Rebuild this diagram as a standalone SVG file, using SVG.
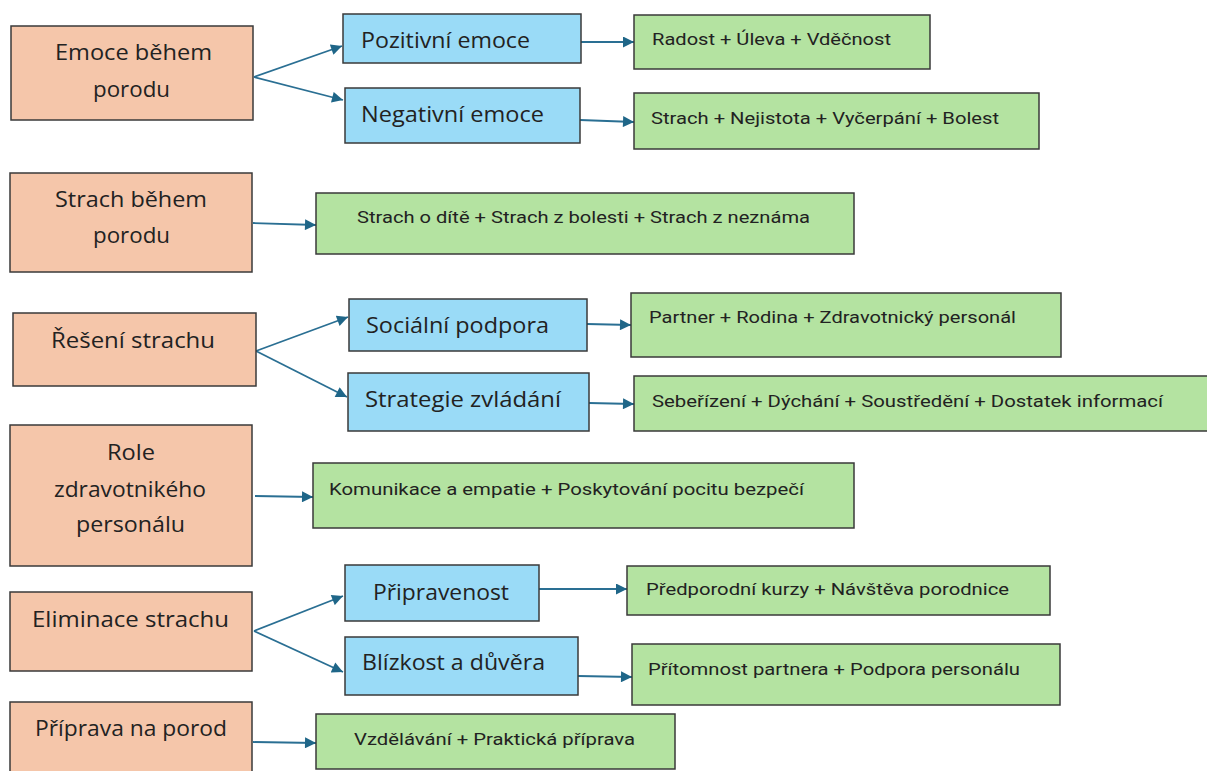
<svg xmlns="http://www.w3.org/2000/svg" width="1207" height="771" viewBox="0 0 1207 771">
<defs>
<style>
.o{fill:#F5C6AA;stroke:#3a3a3a;stroke-width:1.5}
.b{fill:#9ADBF7;stroke:#3a3a3a;stroke-width:1.5}
.g{fill:#B4E3A1;stroke:#3a3a3a;stroke-width:1.5}
.t{font-family:"Open Sans","Noto Sans",sans-serif;font-size:22px;fill:#222}
.s{font-family:Roboto,"Liberation Sans",sans-serif;font-size:17px;fill:#222}
.c{fill:none;stroke:#2A6F93;stroke-width:1.8}
</style>
<marker id="ah" viewBox="0 0 10 10" refX="10" refY="5" markerWidth="12" markerHeight="11" markerUnits="userSpaceOnUse" orient="auto">
<path d="M0,0 L10,5 L0,10 z" fill="#1F6688"/>
</marker>
</defs>
<rect width="1207" height="771" fill="#fff"/>
<g id="connectors">
<path class="c" marker-end="url(#ah)" d="M254,77 L342,46"/>
<path class="c" marker-end="url(#ah)" d="M254,77 L343,100"/>
<path class="c" marker-end="url(#ah)" d="M581,42 L634,42"/>
<path class="c" marker-end="url(#ah)" d="M580,120 L634,122"/>
<path class="c" marker-end="url(#ah)" d="M253,223 L316,225"/>
<path class="c" marker-end="url(#ah)" d="M256,351 L348,317"/>
<path class="c" marker-end="url(#ah)" d="M256,351 L347,397"/>
<path class="c" marker-end="url(#ah)" d="M587,324 L631,325"/>
<path class="c" marker-end="url(#ah)" d="M589,403 L634,404"/>
<path class="c" marker-end="url(#ah)" d="M255,496 L313,497"/>
<path class="c" marker-end="url(#ah)" d="M254,631 L343,596"/>
<path class="c" marker-end="url(#ah)" d="M254,631 L343,672"/>
<path class="c" marker-end="url(#ah)" d="M539,589 L627,589"/>
<path class="c" marker-end="url(#ah)" d="M578,676 L632,677"/>
<path class="c" marker-end="url(#ah)" d="M253,742 L316,743"/>
</g>
<g id="o1"><rect class="o" x="11" y="26" width="242" height="94"/>
<text class="t" x="55" y="60" textLength="157" lengthAdjust="spacingAndGlyphs">Emoce během</text>
<text class="t" x="93" y="97" textLength="77" lengthAdjust="spacingAndGlyphs">porodu</text></g>
<g id="o2"><rect class="o" x="10" y="173" width="242" height="99"/>
<text class="t" x="55" y="207" textLength="152" lengthAdjust="spacingAndGlyphs">Strach během</text>
<text class="t" x="93" y="243" textLength="77" lengthAdjust="spacingAndGlyphs">porodu</text></g>
<g id="o3"><rect class="o" x="13" y="313" width="243" height="73"/>
<text class="t" x="51" y="348" textLength="164" lengthAdjust="spacingAndGlyphs">Řešení strachu</text></g>
<g id="o4"><rect class="o" x="10" y="425" width="242" height="141"/>
<text class="t" x="107" y="460" textLength="48" lengthAdjust="spacingAndGlyphs">Role</text>
<text class="t" x="54" y="497" textLength="152" lengthAdjust="spacingAndGlyphs">zdravotnikého</text>
<text class="t" x="76" y="532" textLength="109" lengthAdjust="spacingAndGlyphs">personálu</text></g>
<g id="o5"><rect class="o" x="10" y="592" width="242" height="79"/>
<text class="t" x="32" y="627" textLength="197" lengthAdjust="spacingAndGlyphs">Eliminace strachu</text></g>
<g id="o6"><rect class="o" x="10" y="702" width="242" height="75"/>
<text class="t" x="35" y="736" textLength="192" lengthAdjust="spacingAndGlyphs">Příprava na porod</text></g>
<g id="b1"><rect class="b" x="343" y="14" width="238" height="49"/>
<text class="t" x="361" y="48" textLength="169" lengthAdjust="spacingAndGlyphs">Pozitivní emoce</text></g>
<g id="b2"><rect class="b" x="345" y="88" width="235" height="55"/>
<text class="t" x="361" y="122" textLength="183" lengthAdjust="spacingAndGlyphs">Negativní emoce</text></g>
<g id="b3"><rect class="b" x="349" y="299" width="238" height="52"/>
<text class="t" x="366" y="333" textLength="183" lengthAdjust="spacingAndGlyphs">Sociální podpora</text></g>
<g id="b4"><rect class="b" x="348" y="373" width="241" height="58"/>
<text class="t" x="365" y="407" textLength="196" lengthAdjust="spacingAndGlyphs">Strategie zvládání</text></g>
<g id="b5"><rect class="b" x="345" y="565" width="194" height="56"/>
<text class="t" x="373" y="600" textLength="136" lengthAdjust="spacingAndGlyphs">Připravenost</text></g>
<g id="b6"><rect class="b" x="345" y="637" width="233" height="58"/>
<text class="t" x="362" y="670" textLength="183" lengthAdjust="spacingAndGlyphs">Blízkost a důvěra</text></g>
<g id="g1"><rect class="g" x="634" y="15" width="296" height="54"/>
<text class="s" x="652" y="45" textLength="239" lengthAdjust="spacingAndGlyphs">Radost + Úleva + Vděčnost</text></g>
<g id="g2"><rect class="g" x="634" y="93" width="405" height="56"/>
<text class="s" x="651" y="124" textLength="348" lengthAdjust="spacingAndGlyphs">Strach + Nejistota + Vyčerpání + Bolest</text></g>
<g id="g3"><rect class="g" x="316" y="193" width="538" height="61"/>
<text class="s" x="357" y="223" textLength="453" lengthAdjust="spacingAndGlyphs">Strach o dítě + Strach z bolesti + Strach z neznáma</text></g>
<g id="g4"><rect class="g" x="631" y="293" width="430" height="64"/>
<text class="s" x="649" y="323" textLength="367" lengthAdjust="spacingAndGlyphs">Partner + Rodina + Zdravotnický personál</text></g>
<g id="g5"><rect class="g" x="634" y="376" width="580" height="55"/>
<text class="s" x="652" y="407" textLength="511" lengthAdjust="spacingAndGlyphs">Sebeřízení + Dýchání + Soustředění + Dostatek informací</text></g>
<g id="g6"><rect class="g" x="313" y="463" width="541" height="65"/>
<text class="s" x="329" y="495" textLength="475" lengthAdjust="spacingAndGlyphs">Komunikace a empatie + Poskytování pocitu bezpečí</text></g>
<g id="g7"><rect class="g" x="627" y="566" width="423" height="49"/>
<text class="s" x="646" y="595" textLength="363" lengthAdjust="spacingAndGlyphs">Předporodní kurzy + Návštěva porodnice</text></g>
<g id="g8"><rect class="g" x="632" y="644" width="428" height="61"/>
<text class="s" x="648" y="675" textLength="372" lengthAdjust="spacingAndGlyphs">Přítomnost partnera + Podpora personálu</text></g>
<g id="g9"><rect class="g" x="316" y="714" width="359" height="55"/>
<text class="s" x="354" y="745" textLength="281" lengthAdjust="spacingAndGlyphs">Vzdělávání + Praktická příprava</text></g>
</svg>
